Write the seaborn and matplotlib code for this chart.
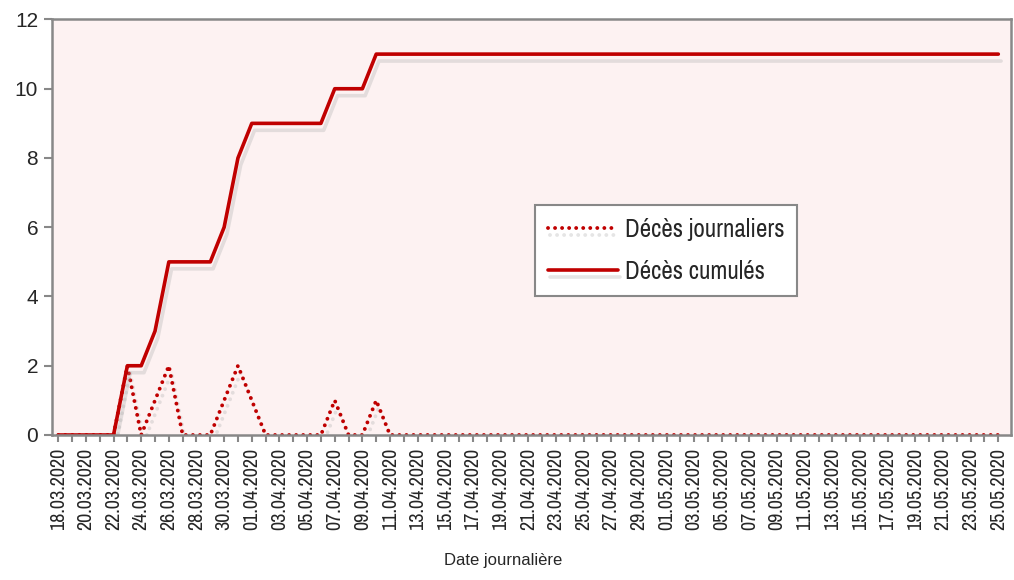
import pandas as pd
import matplotlib
matplotlib.use('Agg')
import matplotlib.pyplot as plt
import matplotlib.patheffects as pe
from matplotlib import font_manager
import seaborn as sns

# Daily dates shown on the x axis
start_date = '2020-03-18'
end_date = '2020-05-25'

# Deaths per day
deces_journaliers = [0, 0, 0, 0, 0, 2, 0, 1, 2, 0, 0, 0, 1, 2, 1, 0, 0, 0, 0, 0, 1, 0, 0, 1,
                     0, 0, 0, 0, 0, 0, 0, 0, 0, 0, 0, 0, 0, 0, 0, 0, 0, 0, 0, 0, 0,
                     0, 0, 0, 0, 0, 0, 0, 0, 0, 0, 0, 0, 0, 0, 0, 0, 0, 0, 0, 0, 0, 0, 0, 0]

# Cumulative deaths
deces_cumules = [0, 0, 0, 0, 0, 2, 2, 3, 5, 5, 5, 5, 6, 8, 9, 9, 9, 9, 9, 9, 10, 10, 10, 11,
                 11, 11, 11, 11, 11, 11, 11, 11, 11, 11, 11, 11, 11, 11, 11, 11, 11, 11, 11, 11, 11,
                 11, 11, 11, 11, 11, 11, 11, 11, 11, 11, 11, 11, 11, 11, 11, 11, 11, 11, 11, 11, 11, 11, 11, 11]

y_ticks = [0, 2, 4, 6, 8, 10, 12]

dates = pd.date_range(start_date, end_date, freq='D')
date_labels = [d.strftime('%d.%m.%Y') for d in dates]
df = pd.DataFrame({
    'jour': range(len(dates)),
    'journaliers': deces_journaliers,
    'cumules': deces_cumules,
})

sns.set_style('white')

# look for a condensed face, the original uses a very narrow font
narrow = None
narrow_stretch = 'normal'
for f in font_manager.fontManager.ttflist:
    if 'Narrow' in f.name or 'Condensed' in f.name:
        narrow = f.name
        break
if narrow is None:
    for f in font_manager.fontManager.ttflist:
        if f.stretch not in ('normal', 500) and f.name in ('DejaVu Sans', 'Roboto', 'Open Sans', 'Noto Sans'):
            narrow = f.name
            narrow_stretch = f.stretch
            break
if narrow is None:
    narrow = 'DejaVu Sans'

plt.rcParams['font.family'] = ['Liberation Sans', 'DejaVu Sans']
narrow_font = {'family': [narrow, 'DejaVu Sans'], 'stretch': narrow_stretch}

red = '#C00000'
shadow = [pe.SimpleLineShadow(offset=(2, -5), shadow_color='#aaaaaa', alpha=0.3), pe.Normal()]

fig = plt.figure(figsize=(10.14, 5.80), dpi=100)
ax = fig.add_axes([0.0513, 0.25, 0.9455, 0.7164])
ax.set_facecolor('#FDF2F2')

sns.lineplot(data=df, x='jour', y='journaliers', ax=ax, color=red, linewidth=2.8,
             linestyle=(0, (0.01, 1.8)), dash_capstyle='round', label='Décès journaliers',
             path_effects=shadow)
sns.lineplot(data=df, x='jour', y='cumules', ax=ax, color=red, linewidth=2.6,
             label='Décès cumulés', path_effects=shadow)

ax.set_xlim(-0.45, len(dates) - 0.1)
ax.set_ylim(0, 12)
ax.set_yticks(y_ticks)
ax.set_yticklabels([str(v) for v in y_ticks], fontsize=15)

ax.set_xticks(range(0, len(dates), 2))
ax.set_xticklabels(date_labels[::2], rotation=90, fontsize=14.5, **narrow_font)
ax.set_xticks(range(len(dates)), minor=True)
ax.tick_params(axis='x', which='both', bottom=True, length=5, width=1.5, color='#888888', pad=4)
ax.tick_params(axis='y', left=True, length=6, width=1.5, color='#888888', pad=4)

for s in ax.spines.values():
    s.set_visible(True)
    s.set_color('#888888')
    s.set_linewidth(1.8)

ax.set_xlabel('Date journalière', fontsize=12)
ax.xaxis.set_label_coords(0.471, -0.285)
ax.set_ylabel('')

leg = ax.legend(loc='upper left', bbox_to_anchor=(0.504, 0.553), borderaxespad=0,
                frameon=True, fancybox=False, handlelength=2.8, handletextpad=0.3,
                borderpad=0.5, labelspacing=0.78,
                prop={'family': [narrow, 'DejaVu Sans'], 'stretch': narrow_stretch, 'size': 18})
leg.get_frame().set_edgecolor('#888888')
leg.get_frame().set_linewidth(1.5)
leg.get_frame().set_facecolor('white')
leg.get_frame().set_alpha(1)

fig.savefig('out.png', dpi=100, facecolor='white')
